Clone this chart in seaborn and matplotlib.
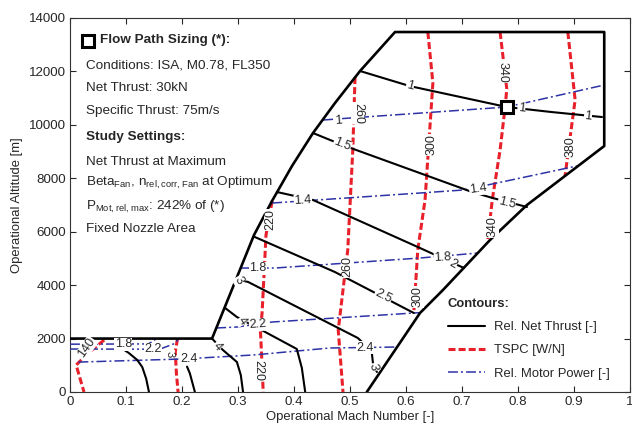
import matplotlib
matplotlib.use("Agg")
import matplotlib.pyplot as plt
import seaborn as sns
import pandas as pd

# ---------------------------------------------------------------- data
# Operating envelope (Mach, altitude in m)
envelope_mach = [0.0, 0.0, 0.2536, 0.291, 0.3286, 0.3607, 0.3964, 0.4339, 0.4732, 0.5179,
                 0.5804, 0.954, 0.954, 0.816, 0.750, 0.666, 0.625, 0.530]
envelope_alt = [0, 2000, 2000, 3930, 5877, 7149, 8459, 9694, 10817, 12015,
                13475, 13475, 9208, 7000, 5689, 3818, 2957, 0]

# Design point: ISA, M0.78, FL350
design_mach = [0.78]
design_alt = [10668]

# Relative net thrust contours
thrust_lines = {
    "1": ([0.518, 0.607, 0.78, 0.86, 0.95], [12015, 11450, 10668, 10480, 10293]),
    "1.5": ([0.434, 0.486, 0.718, 0.755, 0.816], [9694, 9250, 7486, 7261, 6925]),
    "2": ([0.3696, 0.434, 0.625, 0.7036], [7486, 7186, 5390, 4641]),
    "2.5": ([0.330, 0.473, 0.614], [5802, 4492, 2957]),
    "3": ([0.296, 0.318, 0.514, 0.530, 0.539, 0.541, 0.548], [4230, 4120, 2021, 1700, 1460, 1085, 750]),
    "4a": ([0.277, 0.298, 0.352, 0.405, 0.414, 0.420], [3144, 2807, 2208, 1610, 900, 0]),
    "4b": ([0.2536, 0.273, 0.298, 0.305, 0.309], [2000, 1572, 1123, 636, 0]),
    "low1": ([0.095, 0.105, 0.12, 0.129, 0.136, 0.141], [1600, 1460, 1200, 936, 500, 0]),
    "low2": ([0.209, 0.214, 0.223], [950, 700, 0]),
}

# TSPC contours [W/N]
tspc_lines = {
    "140": ([0.061, 0.035, 0.011, 0.018, 0.025], [1946, 1500, 1010, 500, 0]),
    "180": ([0.192, 0.188, 0.190, 0.193], [2000, 1500, 700, 0]),
    "220": ([0.361, 0.350, 0.346, 0.343, 0.340, 0.343, 0.345], [7149, 5877, 4190, 2957, 2321, 1000, 0]),
    "260": ([0.509, 0.505, 0.496, 0.479, 0.4875], [11790, 9058, 5315, 2321, 0]),
    "300": ([0.639, 0.648, 0.634, 0.621, 0.614], [13475, 11566, 7187, 5315, 2994]),
    "340": ([0.768, 0.780, 0.777, 0.768, 0.754, 0.746], [13475, 11340, 10668, 9058, 7187, 5689]),
    "380": ([0.889, 0.902, 0.896, 0.884], [13475, 10929, 9994, 8085]),
}

# Relative motor power contours
power_lines = {
    "1": ([0.452, 0.5, 0.78, 0.954], [10181, 10256, 10668, 11491]),
    "1.4": ([0.361, 0.441, 0.625, 0.702, 0.7625, 0.905], [7074, 7187, 7449, 7561, 7823, 8459]),
    "1.8": ([0.305, 0.366, 0.625, 0.729], [4641, 4641, 5016, 5203]),
    "2.2": ([0.261, 0.298, 0.361, 0.624], [2396, 2433, 2620, 2970]),
    "2.2low": ([0.0, 0.16, 0.185, 0.195], [1610, 1600, 1800, 2000]),
    "1.8low": ([0.0, 0.14, 0.155], [1790, 1800, 2000]),
    "2.4": ([0.015, 0.2, 0.327, 0.464, 0.584], [1120, 1235, 1385, 1647, 1684]),
}

# Contour labels: text, Mach, altitude, angle
contour_labels = [
    ("1", 0.607, 11450, -14), ("1", 0.806, 10610, -6), ("1", 0.925, 10330, -6),
    ("1.5", 0.486, 9250, -22), ("1.5", 0.78, 7080, -14),
    ("2", 0.684, 4790, -30), ("2.5", 0.559, 3570, -27),
    ("3", 0.302, 4190, -60), ("3", 0.542, 930, -80),
    ("4", 0.307, 2660, -55), ("4", 0.2625, 1700, -50),
    ("1", 0.479, 10150, 4), ("1.4", 0.416, 7150, 3), ("1.4", 0.729, 7600, 8),
    ("1.8", 0.336, 4641, 0), ("1.8", 0.666, 5050, 3), ("2.2", 0.336, 2520, 4),
    ("2.2", 0.148, 1600, 0), ("1.8", 0.095, 1790, 0),
    ("2.4", 0.212, 1245, 0), ("2.4", 0.527, 1660, 0),
    ("220", 0.358, 6450, 90), ("220", 0.336, 820, -90),
    ("260", 0.514, 10440, -90), ("260", 0.495, 4680, 90),
    ("300", 0.646, 9250, 90), ("300", 0.620, 3560, 90),
    ("340", 0.773, 11980, -90), ("340", 0.754, 6180, 90),
    ("380", 0.893, 9170, 90), ("140", 0.030, 1650, 55), ("3", 0.177, 1420, -90),
]

info_lines = [
    ("Flow Path Sizing (*):", True),
    ("Conditions: ISA, M0.78, FL350", False),
    ("Net Thrust: 30kN", False),
    ("Specific Thrust: 75m/s", False),
    ("Study Settings:", True),
    ("Net Thrust at Maximum", False),
    ("Beta$_{Fan}$, n$_{rel,corr,Fan}$ at Optimum", False),
    ("P$_{Mot,rel,max}$: 242% of (*)", False),
    ("Fixed Nozzle Area", False),
]

# ---------------------------------------------------------------- style
sns.set_style("ticks")
plt.rcParams["font.family"] = ["Liberation Sans", "DejaVu Sans"]
plt.rcParams["mathtext.default"] = "regular"
plt.rcParams["font.size"] = 9
plt.rcParams["xtick.direction"] = "in"
plt.rcParams["ytick.direction"] = "in"

BLACK = "#000000"
RED = "#e8202a"
BLUE = "#2d33a6"

fig = plt.figure(figsize=(6.32, 4.25), dpi=100)
ax = fig.add_axes([70 / 632, 1 - 392 / 425, 560 / 632, 374 / 425])


def draw(mach, alt, **kw):
    df = pd.DataFrame({"Mach": mach, "Alt": alt})
    sns.lineplot(data=df, x="Mach", y="Alt", sort=False, estimator=None, ax=ax, **kw)
    return ax.lines[-1]


handles = {}
for i, (key, (m, a)) in enumerate(tspc_lines.items()):
    ln = draw(m, a, color=RED, lw=2.2, linestyle=(0, (2.3, 1.0)), zorder=3)
    if i == 0:
        handles["TSPC [W/N]"] = ln
for i, (key, (m, a)) in enumerate(power_lines.items()):
    ln = draw(m, a, color=BLUE, lw=1.1, linestyle=(0, (6.5, 2.0, 1.3, 2.0)), zorder=3)
    if i == 0:
        handles["Rel. Motor Power [-]"] = ln
for i, (key, (m, a)) in enumerate(thrust_lines.items()):
    ln = draw(m, a, color=BLACK, lw=1.5, zorder=4)
    if i == 0:
        handles["Rel. Net Thrust [-]"] = ln

# envelope border (bottom and left edges coincide with the axes)
draw(envelope_mach[1:], envelope_alt[1:], color=BLACK, lw=1.9, zorder=5)

# design point
ax.plot(design_mach, design_alt, marker="s", ms=9, mfc="white", mec=BLACK,
        mew=2.2, ls="none", zorder=7)

for txt, m, a, rot in contour_labels:
    ax.text(m, a, txt, rotation=rot, ha="center", va="center",
            fontsize=8 if (txt == "3" and m < 0.2) else 9,
            rotation_mode="anchor", zorder=6,
            bbox=dict(facecolor="white", edgecolor="none", pad=0.4))

# information block
ys = [40, 65, 88, 111, 137, 162, 183, 207, 229]
for (txt, bold), y in zip(info_lines, ys):
    x = 100 if txt.startswith("Flow") else 86
    ax.text((x - 70) / 560, (392 - y) / 374, txt, transform=ax.transAxes,
            ha="left", va="center", fontsize=9.7,
            fontweight="bold" if bold else "normal")
ax.plot([(88 - 70) / 560], [(392 - 41) / 374], marker="s", ms=8.5, mfc="white",
        mec=BLACK, mew=2.2, transform=ax.transAxes, clip_on=False)

ax.set_xlim(0, 1)
ax.set_ylim(0, 14000)
ax.set_xticks([i / 10 for i in range(11)])
ax.set_xticklabels(["0"] + [f"{i / 10:.1f}" for i in range(1, 10)] + ["1"])
ax.set_yticks(range(0, 14001, 2000))
ax.tick_params(top=True, right=True, length=4, width=0.8, labelsize=9.6, pad=3)
for s in ax.spines.values():
    s.set_linewidth(0.8)
    s.set_color("#333333")
ax.set_xlabel("Operational Mach Number [-]", fontsize=9.4, labelpad=2)
ax.set_ylabel("Operational Altitude [m]", fontsize=9.4, labelpad=4)

order = ["Rel. Net Thrust [-]", "TSPC [W/N]", "Rel. Motor Power [-]"]
leg = ax.legend([handles[k] for k in order], order, title="Contours:",
                loc="upper left", bbox_to_anchor=((448 - 70) / 560, (392 - 298) / 374),
                frameon=False, borderpad=0, borderaxespad=0, handlelength=2.8,
                handletextpad=0.7, labelspacing=0.85, alignment="left", fontsize=9.4)
leg.get_title().set_fontweight("bold")
leg.get_title().set_fontsize(9.4)

fig.savefig("out.png", dpi=100)
